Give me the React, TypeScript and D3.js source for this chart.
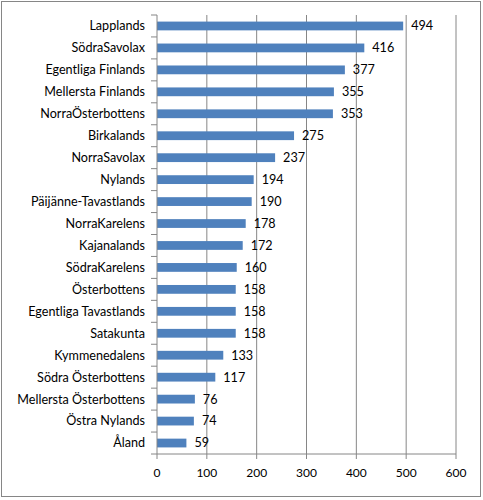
import * as d3 from "d3"

const categories = [
  "Lapplands",
  "SödraSavolax",
  "Egentliga Finlands",
  "Mellersta Finlands",
  "NorraÖsterbottens",
  "Birkalands",
  "NorraSavolax",
  "Nylands",
  "Päijänne-Tavastlands",
  "NorraKarelens",
  "Kajanalands",
  "SödraKarelens",
  "Österbottens",
  "Egentliga Tavastlands",
  "Satakunta",
  "Kymmenedalens",
  "Södra Österbottens",
  "Mellersta Österbottens",
  "Östra Nylands",
  "Åland",
]

const values = [494, 416, 377, 355, 353, 275, 237, 194, 190, 178, 172, 160, 158, 158, 158, 133, 117, 76, 74, 59]

const xTicks = [0, 100, 200, 300, 400, 500, 600]

const font = "Lato, 'Open Sans', sans-serif"

export default function App() {
  const width = 483
  const height = 500
  const left = 157
  const right = 456
  const top = 15
  const bottom = 454

  const x = d3.scaleLinear().domain([0, 600]).range([left, right])
  const y = d3.scaleBand<string>().domain(categories).range([top, bottom]).paddingInner(0.6).paddingOuter(0.3)
  const band = d3.scaleBand<string>().domain(categories).range([top, bottom])
  const edges = [...categories.map((c) => band(c) as number), bottom]

  return (
    <svg
      width={width}
      height={height}
      style={{ position: "absolute", left: 0, top: 0, fontFamily: font }}
    >
      <rect x={1.5} y={1.5} width={479} height={495} fill="#fff" stroke="#868686" strokeWidth={1} />
      {xTicks.slice(1).map((t) => (
        <line key={t} x1={x(t)} x2={x(t)} y1={top} y2={bottom} stroke="#868686" strokeWidth={1} />
      ))}
      {categories.map((c, i) => (
        <rect
          key={c}
          x={x(0)}
          y={y(c)}
          width={x(values[i]) - x(0)}
          height={y.bandwidth()}
          fill="#4F81BD"
        />
      ))}
      <line x1={left} x2={left} y1={top} y2={bottom} stroke="#868686" />
      <line x1={left} x2={right} y1={bottom} y2={bottom} stroke="#868686" />
      {edges.map((e, i) => (
        <line key={i} x1={left - 6} x2={left} y1={e} y2={e} stroke="#868686" />
      ))}
      {xTicks.map((t) => (
        <g key={t}>
          <line x1={x(t)} x2={x(t)} y1={bottom} y2={bottom + 5} stroke="#868686" />
          <text x={x(t)} y={477} textAnchor="middle" fontSize={12} fill="#000">
            {t}
          </text>
        </g>
      ))}
      {categories.map((c, i) => (
        <text
          key={c}
          x={145}
          y={(band(c) as number) + band.bandwidth() / 2}
          dy="0.35em"
          textAnchor="end"
          fontSize={12.6}
          fill="#000"
        >
          {c}
        </text>
      ))}
      {categories.map((c, i) => (
        <text
          key={c}
          x={x(values[i]) + 8}
          y={(band(c) as number) + band.bandwidth() / 2}
          dy="0.35em"
          textAnchor="start"
          fontSize={12.6}
          fill="#000"
        >
          {values[i]}
        </text>
      ))}
    </svg>
  )
}
